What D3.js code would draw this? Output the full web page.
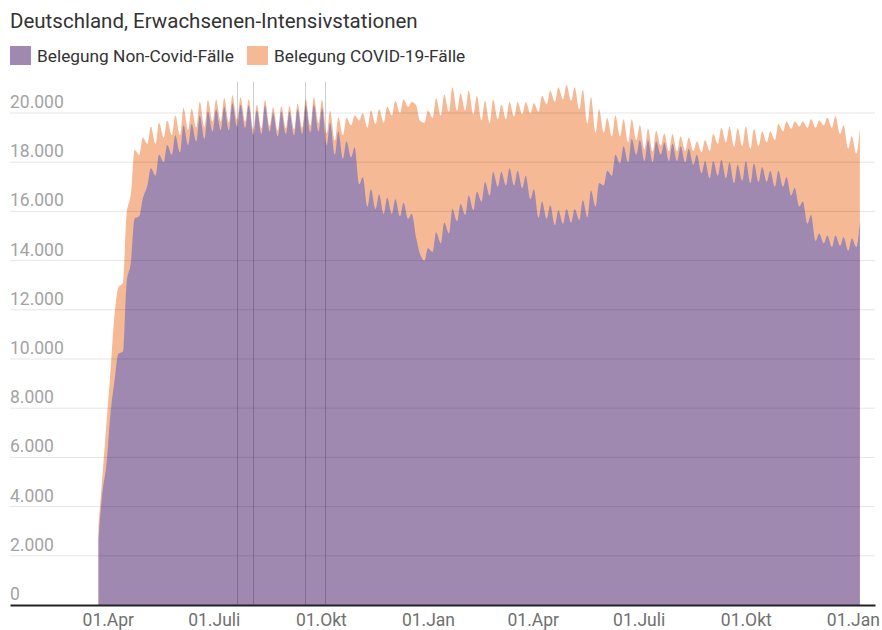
<!DOCTYPE html>
<html>
<head>
<meta charset="utf-8">
<script src="https://cdn.jsdelivr.net/npm/d3@7"></script>
<style>
  body { margin: 0; background: #fff; font-family: Roboto, "Noto Sans", sans-serif; }
  svg text { font-family: Roboto, "Noto Sans", sans-serif; }
</style>
</head>
<body>
<div id="chart"></div>
<script>
// one pair of readings per week: low on Tuesday, high on Friday (weekday swing)
var firstTuesday = "2020-03-24";

var nonCovidLow = [
	2700, 5800, 9200, 10300, 14000, 15800, 17050, 17450, 18000, 18300,
	18400, 18700, 18850, 18950, 19250, 19300, 19300, 19450, 19400, 19100,
	19150, 19250, 19050, 19150, 19100, 19150, 19200, 19250, 18700, 18300,
	18150, 18200, 17100, 16200, 16100, 15900, 15900, 15800, 15700, 14900,
	14000, 14350, 14700, 15100, 15600, 15850, 16050, 16400, 16650, 17000,
	17050, 17050, 16950, 16500, 15750, 15700, 15450, 15500, 15550, 15650,
	15770, 16200, 17050, 17450, 17950, 18000, 18300, 18050, 18000, 18300,
	18050, 18050, 18000, 17900, 17550, 17350, 17450, 17350, 17150, 17250,
	17150, 17200, 17200, 17000, 17000, 16650, 16200, 15500, 14800, 14700,
	14550, 14600, 14400, 14550
];
var nonCovidHigh = [
	4400, 7600, 10200, 13000, 15700, 16500, 17750, 18300, 18700, 19100,
	19500, 19550, 19900, 20050, 20150, 20250, 20400, 20350, 20300, 20100,
	20300, 20000, 20050, 20050, 20150, 20300, 20350, 20200, 19600, 19250,
	18850, 18600, 17400, 16900, 16700, 16550, 16500, 16350, 15900, 14300,
	14500, 15150, 15550, 16100, 16300, 16650, 16800, 17200, 17600, 17600,
	17750, 17650, 17450, 16900, 16400, 16250, 16050, 16100, 16100, 16450,
	16850, 17150, 17650, 18300, 18650, 18950, 18900, 18900, 18850, 18800,
	18750, 18650, 18550, 18300, 18050, 18050, 18100, 18000, 17900, 18050,
	17950, 17800, 17650, 17650, 17400, 16950, 16400, 15850, 15100, 15020,
	15020, 14950, 14900, 15600
];
var covid = [
	600, 1700, 2700, 2800, 2800, 2500, 1700, 1300, 1000, 800,
	700, 620, 560, 480, 400, 360, 320, 290, 260, 240,
	230, 230, 230, 240, 240, 260, 290, 340, 480, 580,
	950, 1300, 2600, 3200, 3450, 3700, 4000, 4200, 4550, 5400,
	5600, 5450, 5200, 4950, 4500, 4250, 3900, 3300, 2950, 2750,
	2700, 2800, 3000, 3500, 4300, 4650, 5000, 5050, 4950, 4500,
	3800, 3000, 2150, 1600, 1100, 800, 600, 480, 430, 370,
	400, 400, 450, 550, 850, 1100, 1300, 1450, 1480, 1400,
	1400, 1450, 1600, 1900, 2250, 2700, 3250, 3900, 4600, 4800,
	4850, 4550, 4150, 3800
];

var seriesNames = ["Belegung Non-Covid-Fälle", "Belegung COVID-19-Fälle"];
var seriesColors = ["#9f89b1", "#f5b995"];

var yTicks = [0, 2000, 4000, 6000, 8000, 10000, 12000, 14000, 16000, 18000, 20000];
var xTickDates = ["2020-04-01", "2020-07-01", "2020-10-01", "2021-01-01",
	"2021-04-01", "2021-07-01", "2021-10-01", "2022-01-01"];
var xTickLabels = ["01.Apr", "01.Juli", "01.Okt", "01.Jan",
	"01.Apr", "01.Juli", "01.Okt", "01.Jan"];
// thin vertical seams visible in the original chart
var seamDates = ["2020-07-21", "2020-08-04", "2020-09-17", "2020-10-05"];

var title = "Deutschland, Erwachsenen-Intensivstationen";

var width = 882, height = 630;
var parse = d3.utcParse("%Y-%m-%d");
var de = d3.formatLocale({decimal: ",", thousands: ".", grouping: [3], currency: ["", " €"]});
var fmt = de.format(",d");

// build the point list from the weekly arrays
var data = [];
var t0 = parse(firstTuesday);
for (var k = 0; k < nonCovidLow.length; k++) {
	var tue = d3.utcDay.offset(t0, 7 * k);
	var fri = d3.utcDay.offset(tue, 3);
	data.push({d: tue, nc: nonCovidLow[k], c: covid[k]});
	data.push({d: fri, nc: nonCovidHigh[k], c: covid[k]});
}

var x = d3.scaleUtc()
	.domain([parse("2020-01-08"), parse("2022-01-20")])
	.range([10, 875]);

var y = d3.scaleLinear()
	.domain([0, 21260])
	.range([605, 82]);

var svg = d3.select("#chart").append("svg")
	.attr("width", width)
	.attr("height", height);

// title
svg.append("text")
	.attr("x", 10).attr("y", 28)
	.style("font-size", "20.5px")
	.style("fill", "#333")
	.text(title);

// legend
var legend = svg.append("g");
var lx = [10, 247];
seriesNames.forEach(function(name, i) {
	legend.append("rect")
		.attr("x", lx[i]).attr("y", 46)
		.attr("width", 21).attr("height", 19)
		.attr("fill", seriesColors[i]);
	legend.append("text")
		.attr("x", lx[i] + 27).attr("y", 62)
		.style("font-size", "17.3px")
		.style("fill", "#333")
		.text(name);
});

// areas: total (peach) behind, non-covid (purple) on top
var areaTotal = d3.area()
	.x(function(d) { return x(d.d); })
	.y0(y(0))
	.y1(function(d) { return y(d.nc + d.c); })
	.curve(d3.curveMonotoneX);

var areaNon = d3.area()
	.x(function(d) { return x(d.d); })
	.y0(y(0))
	.y1(function(d) { return y(d.nc); })
	.curve(d3.curveMonotoneX);

svg.append("path").datum(data)
	.attr("d", areaTotal)
	.attr("fill", seriesColors[1]);

svg.append("path").datum(data)
	.attr("d", areaNon)
	.attr("fill", seriesColors[0]);

// gridlines over the areas
var grid = svg.append("g");
grid.selectAll("line")
	.data(yTicks.slice(1))
	.enter().append("line")
	.attr("x1", 10).attr("x2", 875)
	.attr("y1", function(d) { return y(d); })
	.attr("y2", function(d) { return y(d); })
	.attr("stroke", "#000")
	.attr("stroke-opacity", 0.1)
	.attr("stroke-width", 1);

// seams
svg.append("g").selectAll("line")
	.data(seamDates)
	.enter().append("line")
	.attr("x1", function(d) { return Math.round(x(parse(d))) + 0.5; })
	.attr("x2", function(d) { return Math.round(x(parse(d))) + 0.5; })
	.attr("y1", y.range()[1])
	.attr("y2", y(0))
	.attr("stroke", "#000")
	.attr("stroke-opacity", 0.2)
	.attr("stroke-width", 1);

// y labels
svg.append("g").selectAll("text")
	.data(yTicks)
	.enter().append("text")
	.attr("x", 10)
	.attr("y", function(d) { return y(d) - 5; })
	.style("font-size", "17.5px")
	.style("fill", "#a3a3a3")
	.text(function(d) { return fmt(d); });

// x axis
var xAxis = d3.axisBottom(x)
	.tickValues(xTickDates.map(parse))
	.tickFormat(function(d, i) { return xTickLabels[i]; })
	.tickSize(0)
	.tickPadding(9);

var gx = svg.append("g")
	.attr("transform", "translate(0," + y(0) + ")")
	.call(xAxis);
gx.select(".domain").attr("stroke", "#222").attr("stroke-width", 2);
gx.selectAll("text")
	.style("font-size", "17.5px")
	.style("fill", "#707070")
	.style("font-family", "Roboto, sans-serif");
</script>
</body>
</html>
